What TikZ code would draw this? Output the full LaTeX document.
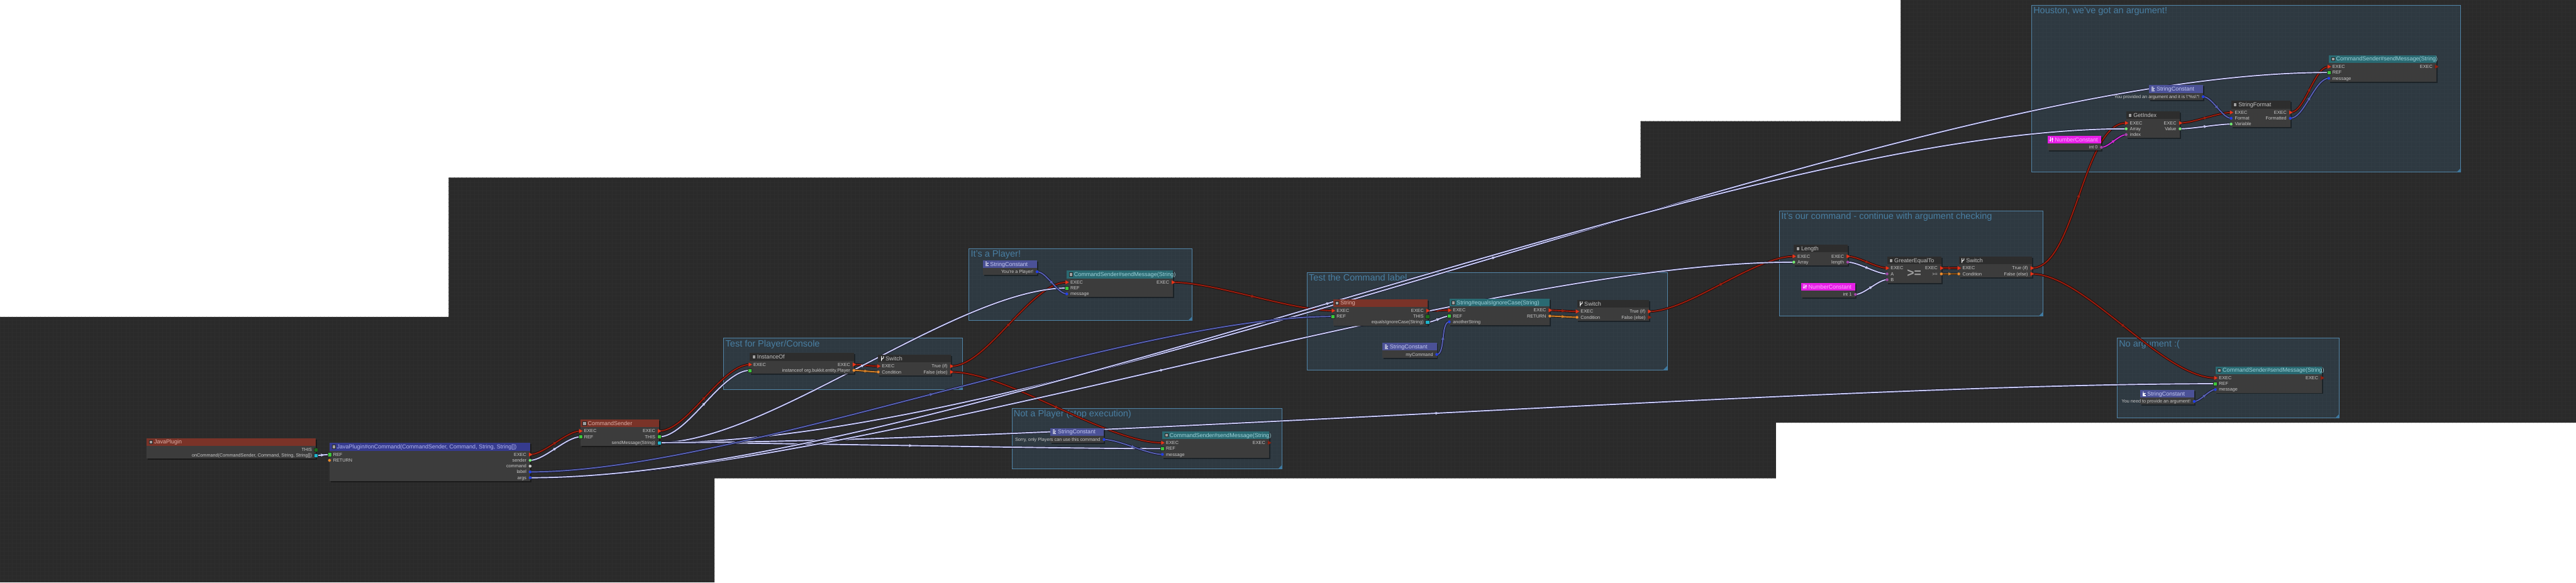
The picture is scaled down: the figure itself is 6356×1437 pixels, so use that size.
\documentclass[tikz,border=0pt]{standalone}
\usepackage{fontspec}
\setmainfont{Liberation Sans}
\usetikzlibrary{calc,shapes.geometric,decorations.markings}

\definecolor{canvasbg}{HTML}{2A2A2A}
\definecolor{gridline}{HTML}{2E2E2E}
\definecolor{groupblue}{HTML}{3F789E}
\definecolor{bodygray}{HTML}{3C3C3C}
\definecolor{headgray}{HTML}{2D2D2D}
\definecolor{headred}{HTML}{7A3328}
\definecolor{headblue}{HTML}{363B8E}
\definecolor{headteal}{HTML}{2A6A72}
\definecolor{headstr}{HTML}{4B5196}
\definecolor{headnum}{HTML}{E61EE6}
\definecolor{txtred}{HTML}{DDB0A8}
\definecolor{txtblue}{HTML}{B4B8F0}
\definecolor{txtteal}{HTML}{A0D2DA}
\definecolor{txtstr}{HTML}{C4C8F0}
\definecolor{txtnum}{HTML}{FFB0FF}
\definecolor{txtgray}{HTML}{C4C4C4}
\definecolor{labelgray}{HTML}{CACACA}
\definecolor{execred}{HTML}{EC3418}
\definecolor{execdim}{HTML}{962010}
\definecolor{refgreen}{HTML}{3CC63C}
\definecolor{thisgreen}{HTML}{1B6E1B}
\definecolor{methcyan}{HTML}{1CB2CA}
\definecolor{dotblue}{HTML}{1E3CF0}
\definecolor{dotgreen}{HTML}{72F072}
\definecolor{dotorange}{HTML}{F08C2A}
\definecolor{dotpurple}{HTML}{A444AC}
\definecolor{dotgray}{HTML}{C8C8C8}
\definecolor{execcore}{HTML}{9A1F10}
\definecolor{execedge}{HTML}{230806}
\definecolor{lavcore}{HTML}{C8CAF2}
\definecolor{lavedge}{HTML}{16162E}
\definecolor{strcore}{HTML}{5862B2}
\definecolor{stredge}{HTML}{13132A}
\definecolor{boolcore}{HTML}{D4822C}
\definecolor{booledge}{HTML}{2A1806}
\definecolor{intcore}{HTML}{D22CD2}

\pgfdeclarelayer{canvas}
\pgfdeclarelayer{groups}
\pgfdeclarelayer{links}
\pgfsetlayers{canvas,groups,links,main}

% ノード本体（名前, x, y, 幅, 行数, 見出し色, 見出し文字色, アイコン, 見出し）
\newcommand{\bpnode}[9]{%
  \fill[nodeshadow] (#2+3,#3+3) rectangle ++(#4,{36.5+14.3*(#5-1)});
  \node[nodebody, minimum width=#4, minimum height={36.5+14.3*(#5-1)}] (#1) at (#2,#3) {};
  \fill[#6] (#1.north west) rectangle ++(#4,19);
  #8{#1}%
  \node[headtext, text=#7] at ([shift={(18,14.5)}]#1.north west) {#9};}
% 左右のピン
\newcommand{\pinL}[5]{%
  \node[#1] (#2) at ([shift={(0,{28.5+14.3*#4})}]#3.north west) {};
  \node[pinlabel, anchor=base west] at ([shift={(9,4)}]#2.center) {#5};}
\newcommand{\pinR}[5]{%
  \node[#1] (#2) at ([shift={(0,{28.5+14.3*#4})}]#3.north east) {};
  \node[pinlabel, anchor=base east] at ([shift={(-9,4)}]#2.center) {#5};}
% グループ枠
\newcommand{\bpgroup}[6]{%
  \begin{pgfonlayer}{groups}
  \node[groupbox, minimum width={#4-#2}, minimum height={#5-#3}] (#1) at (#2,#3) {};
  \node[grouptitle] at ([shift={(5,21.5)}]#1.north west) {#6};
  \fill[groupblue] (#1.south east) -- ++(-11,0) -- ++(11,-11) -- cycle;
  \end{pgfonlayer}}
% 接続線（端点間の距離の1/4で水平に出る）
\newcommand{\bplink}[3][objlink]{%
  \draw[#1] let \p1=(#2), \p2=(#3), \n1={veclen((\x2-\x1)/100,(\y2-\y1)/100)*25}
    in (\p1) .. controls +(\n1,0) and +(-\n1,0) .. (\p2);}
% アイコン
\newcommand{\iconbox}[1]{\filldraw[fill=gray!75, draw=black!85, line width=0.8] ([shift={(6,5)}]#1.north west) rectangle ++(8,9);}
\newcommand{\iconstr}[1]{\foreach \dy/\len in {5/4,8/8,11/6,14/8}{\draw[white, line width=1.7] ([shift={(6,\dy)}]#1.north west) -- ++(\len,0);}}
\newcommand{\iconnum}[1]{\draw[white, line width=1.4, ->] ([shift={(7,4)}]#1.north west) -- ++(0,11);
  \draw[white, line width=1.4, ->] ([shift={(12,15)}]#1.north west) -- ++(0,-11);}
\newcommand{\iconsw}[1]{\draw[white, line width=1.5] ([shift={(8,16)}]#1.north west) -- ++(0,-12)
  ([shift={(8,12)}]#1.north west) -- ++(5,-4) -- ++(0,-4);}

\begin{document}
\begin{tikzpicture}[x=1pt, y=-1pt, >=stealth,
  nodebody/.style={anchor=north west, fill=bodygray, inner sep=0, outer sep=0},
  nodeshadow/.style={fill=black, fill opacity=0.4},
  headtext/.style={anchor=base west, inner sep=0, font=\fontsize{14}{16}\selectfont},
  pinlabel/.style={inner sep=0, text=labelgray, font=\fontsize{11.3}{13}\selectfont},
  execpin/.style={regular polygon, regular polygon sides=3, rotate=-90, minimum size=13, inner sep=0, fill=execred, draw=black!80, line width=0.5},
  execoff/.style={execpin, fill=execdim},
  sqpin/.style={rectangle, minimum size=9.5, inner sep=0, draw=black!85, line width=0.6},
  dotpin/.style={circle, minimum size=7.5, inner sep=0, draw=black!70, line width=0.4},
  groupbox/.style={anchor=north west, inner sep=0, fill=groupblue, fill opacity=0.2, draw=groupblue!90!white, line width=1.2},
  grouptitle/.style={anchor=base west, inner sep=0, text=groupblue!95!white, font=\fontsize{22.5}{26}\selectfont},
  wire/.style n args={2}{draw=#1, line width=3, line cap=round, preaction={draw=#2, line width=5.6},
    postaction={decorate, decoration={markings, mark=at position 0.5 with {\fill[#1] (-4,-3.6) -- (4.5,0) -- (-4,3.6) -- cycle;}}}},
  execlink/.style={wire={execcore}{execedge}},
  objlink/.style={wire={lavcore}{lavedge}},
  strlink/.style={wire={strcore}{stredge}},
  boollink/.style={wire={boolcore}{booledge}},
  intlink/.style={wire={intcore}{stredge}}]

\useasboundingbox (0,0) rectangle (6356,1437);

% 背景とグリッド
\begin{pgfonlayer}{canvas}
  \fill[white] (0,0) rectangle (6356,1437);
  \begin{scope}
    \clip (0,782) -- (1107,782) -- (1107,438) -- (4048,438) -- (4048,299) -- (4690,299) -- (4690,0)
      -- (6356,0) -- (6356,1043) -- (4382,1043) -- (4382,1180) -- (1763,1180) -- (1763,1437) -- (0,1437) -- cycle;
    \fill[canvasbg] (0,0) rectangle (6356,1437);
    \foreach \gx in {0,10,...,6350} \draw[gridline, line width=0.6] (\gx,0) -- (\gx,1437);
    \foreach \gy in {0,10,...,1430} \draw[gridline, line width=0.6] (0,\gy) -- (6356,\gy);
  \end{scope}
\end{pgfonlayer}

% グループ
\bpgroup{gtest}{1785}{834}{2374}{960}{Test for Player/Console}
\bpgroup{gplayer}{2390}{613}{2941}{790}{It's a Player!}
\bpgroup{gnot}{2496}{1007}{3163}{1156}{Not a Player (stop execution)}
\bpgroup{glabel}{3224}{672}{4113}{912}{Test the Command label}
\bpgroup{gours}{4390}{520}{5040}{779}{It's our command - continue with argument checking}
\bpgroup{ghouston}{5012}{12}{6071}{424}{Houston, we've got an argument!}
\bpgroup{gnoarg}{5223}{834}{5771}{1031}{No argument :(}

% 入口
\bpnode{jp}{362}{1081}{417}{2}{headred}{txtred}{\iconbox}{JavaPlugin}
\pinR{sqpin, fill=thisgreen}{jp-this}{jp}{0}{THIS}
\pinR{sqpin, fill=methcyan}{jp-cmd}{jp}{1}{onCommand(CommandSender, Command, String, String[])}

\bpnode{oc}{813}{1093}{495}{5}{headblue}{txtblue}{\iconbox}{JavaPlugin\#onCommand(CommandSender, Command, String, String[])}
\pinL{sqpin, fill=refgreen}{oc-ref}{oc}{0}{REF}
\pinL{dotpin, fill=dotorange}{oc-ret}{oc}{1}{RETURN}
\pinR{execpin}{oc-exec}{oc}{0}{EXEC}
\pinR{dotpin, fill=dotgreen}{oc-sender}{oc}{1}{sender}
\pinR{dotpin, fill=dotgray}{oc-command}{oc}{2}{command}
\pinR{dotpin, fill=dotblue}{oc-label}{oc}{3}{label}
\pinR{dotpin, fill=dotblue}{oc-args}{oc}{4}{args}

\bpnode{cs}{1432}{1035}{194}{3}{headred}{txtred}{\iconbox}{CommandSender}
\pinL{execpin}{cs-in}{cs}{0}{EXEC}
\pinL{sqpin, fill=refgreen}{cs-ref}{cs}{1}{REF}
\pinR{execpin}{cs-out}{cs}{0}{EXEC}
\pinR{sqpin, fill=refgreen}{cs-this}{cs}{1}{THIS}
\pinR{sqpin, fill=methcyan}{cs-send}{cs}{2}{sendMessage(String)}

% プレイヤー判定
\bpnode{io}{1850}{871}{257}{2}{headgray}{txtgray}{\iconbox}{InstanceOf}
\pinL{execpin}{io-in}{io}{0}{EXEC}
\pinL{sqpin, fill=refgreen}{io-ref}{io}{1}{}
\pinR{execpin}{io-out}{io}{0}{EXEC}
\pinR{dotpin, fill=dotorange}{io-test}{io}{1}{instanceof org.bukkit.entity.Player}

\bpnode{sw1}{2167}{875}{180}{2}{headgray}{txtgray}{\iconsw}{Switch}
\pinL{execpin}{sw1-in}{sw1}{0}{EXEC}
\pinL{dotpin, fill=dotorange}{sw1-cond}{sw1}{1}{Condition}
\pinR{execpin}{sw1-true}{sw1}{0}{True (if)}
\pinR{execpin}{sw1-false}{sw1}{1}{False (else)}

\bpnode{sc1}{2425}{642}{134}{1}{headstr}{txtstr}{\iconstr}{StringConstant}
\pinR{dotpin, fill=dotblue}{sc1-out}{sc1}{0}{You're a Player!}
\bpnode{sm1}{2632}{668}{262}{3}{headteal}{txtteal}{\iconbox}{CommandSender\#sendMessage(String)}
\pinL{execpin}{sm1-in}{sm1}{0}{EXEC}
\pinL{sqpin, fill=refgreen}{sm1-ref}{sm1}{1}{REF}
\pinL{dotpin, fill=dotblue}{sm1-msg}{sm1}{2}{message}
\pinR{execpin}{sm1-out}{sm1}{0}{EXEC}

\bpnode{sc2}{2592}{1056}{132}{1}{headstr}{txtstr}{\iconstr}{StringConstant}
\pinR{dotpin, fill=dotblue}{sc2-out}{sc2}{0}{Sorry, only Players can use this command}
\bpnode{sm2}{2868}{1064}{263}{3}{headteal}{txtteal}{\iconbox}{CommandSender\#sendMessage(String)}
\pinL{execpin}{sm2-in}{sm2}{0}{EXEC}
\pinL{sqpin, fill=refgreen}{sm2-ref}{sm2}{1}{REF}
\pinL{dotpin, fill=dotblue}{sm2-msg}{sm2}{2}{message}
\pinR{execoff}{sm2-out}{sm2}{0}{EXEC}

% コマンド名の判定
\bpnode{str}{3289}{738}{233}{3}{headred}{txtred}{\iconbox}{String}
\pinL{execpin}{str-in}{str}{0}{EXEC}
\pinL{sqpin, fill=refgreen}{str-ref}{str}{1}{REF}
\pinR{execpin}{str-out}{str}{0}{EXEC}
\pinR{sqpin, fill=thisgreen}{str-this}{str}{1}{THIS}
\pinR{sqpin, fill=methcyan}{str-eqic}{str}{2}{equalsIgnoreCase(String)}

\bpnode{eq}{3576}{737}{248}{3}{headteal}{txtteal}{\iconbox}{String\#equalsIgnoreCase(String)}
\pinL{execpin}{eq-in}{eq}{0}{EXEC}
\pinL{sqpin, fill=refgreen}{eq-ref}{eq}{1}{REF}
\pinL{dotpin, fill=dotblue}{eq-other}{eq}{2}{anotherString}
\pinR{execpin}{eq-out}{eq}{0}{EXEC}
\pinR{dotpin, fill=dotorange}{eq-ret}{eq}{1}{RETURN}

\bpnode{sw2}{3891}{740}{178}{2}{headgray}{txtgray}{\iconsw}{Switch}
\pinL{execpin}{sw2-in}{sw2}{0}{EXEC}
\pinL{dotpin, fill=dotorange}{sw2-cond}{sw2}{1}{Condition}
\pinR{execpin}{sw2-true}{sw2}{0}{True (if)}
\pinR{execoff}{sw2-false}{sw2}{1}{False (else)}

\bpnode{sc3}{3411}{846}{134}{1}{headstr}{txtstr}{\iconstr}{StringConstant}
\pinR{dotpin, fill=dotblue}{sc3-out}{sc3}{0}{myCommand}

% 引数の数
\bpnode{len}{4426}{604}{133}{2}{headgray}{txtgray}{\iconbox}{Length}
\pinL{execpin}{len-in}{len}{0}{EXEC}
\pinL{dotpin, fill=dotgreen}{len-arr}{len}{1}{Array}
\pinR{execpin}{len-out}{len}{0}{EXEC}
\pinR{dotpin, fill=dotpurple}{len-len}{len}{1}{length}

\bpnode{nc1}{4444}{698}{134}{1}{headnum}{txtnum}{\iconnum}{NumberConstant}
\pinR{dotpin, fill=dotpurple}{nc1-out}{nc1}{0}{int 1}

\bpnode{geq}{4656}{633}{134}{3}{headgray}{txtgray}{\iconbox}{GreaterEqualTo}
\pinL{execpin}{geq-in}{geq}{0}{EXEC}
\pinL{dotpin, fill=dotpurple}{geq-a}{geq}{1}{A}
\pinL{dotpin, fill=dotpurple}{geq-b}{geq}{2}{B}
\pinR{execpin}{geq-out}{geq}{0}{EXEC}
\pinR{dotpin, fill=dotorange}{geq-res}{geq}{1}{>=}
\node[inner sep=0, text=gray!75!white, font=\fontsize{30}{30}\selectfont\bfseries] (geq-sym) at ([shift={(67,42)}]geq.north west) {>=};

\bpnode{sw3}{4833}{633}{180}{2}{headgray}{txtgray}{\iconsw}{Switch}
\pinL{execpin}{sw3-in}{sw3}{0}{EXEC}
\pinL{dotpin, fill=dotorange}{sw3-cond}{sw3}{1}{Condition}
\pinR{execpin}{sw3-true}{sw3}{0}{True (if)}
\pinR{execpin}{sw3-false}{sw3}{1}{False (else)}

% 引数あり
\bpnode{sm3}{5746}{136}{265}{3}{headteal}{txtteal}{\iconbox}{CommandSender\#sendMessage(String)}
\pinL{execpin}{sm3-in}{sm3}{0}{EXEC}
\pinL{sqpin, fill=refgreen}{sm3-ref}{sm3}{1}{REF}
\pinL{dotpin, fill=dotblue}{sm3-msg}{sm3}{2}{message}
\pinR{execoff}{sm3-out}{sm3}{0}{EXEC}

\bpnode{sc4}{5303}{210}{133}{1}{headstr}{txtstr}{\iconstr}{StringConstant}
\pinR{dotpin, fill=dotblue}{sc4-out}{sc4}{0}{You provided an argument and it is \textbackslash"\%s\textbackslash"!}

\bpnode{sf}{5505}{249}{146}{3}{headgray}{txtgray}{\iconbox}{StringFormat}
\pinL{execpin}{sf-in}{sf}{0}{EXEC}
\pinL{dotpin, fill=dotblue}{sf-fmt}{sf}{1}{Format}
\pinL{dotpin, fill=dotgreen}{sf-var}{sf}{2}{Variable}
\pinR{execpin}{sf-out}{sf}{0}{EXEC}
\pinR{dotpin, fill=dotblue}{sf-res}{sf}{1}{Formatted}

\bpnode{gi}{5246}{275}{133}{3}{headgray}{txtgray}{\iconbox}{GetIndex}
\pinL{execpin}{gi-in}{gi}{0}{EXEC}
\pinL{dotpin, fill=dotgreen}{gi-arr}{gi}{1}{Array}
\pinL{dotpin, fill=dotpurple}{gi-idx}{gi}{2}{index}
\pinR{execpin}{gi-out}{gi}{0}{EXEC}
\pinR{dotpin, fill=dotgreen}{gi-val}{gi}{1}{Value}

\bpnode{nc2}{5052}{335}{133}{1}{headnum}{txtnum}{\iconnum}{NumberConstant}
\pinR{dotpin, fill=dotpurple}{nc2-out}{nc2}{0}{int 0}

% 引数なし
\bpnode{sm4}{5466}{904}{263}{3}{headteal}{txtteal}{\iconbox}{CommandSender\#sendMessage(String)}
\pinL{execpin}{sm4-in}{sm4}{0}{EXEC}
\pinL{sqpin, fill=refgreen}{sm4-ref}{sm4}{1}{REF}
\pinL{dotpin, fill=dotblue}{sm4-msg}{sm4}{2}{message}
\pinR{execoff}{sm4-out}{sm4}{0}{EXEC}

\bpnode{sc5}{5280}{962}{134}{1}{headstr}{txtstr}{\iconstr}{StringConstant}
\pinR{dotpin, fill=dotblue}{sc5-out}{sc5}{0}{You need to provide an argument!}

% 接続線
\begin{pgfonlayer}{links}
  % 実行の流れ
  \bplink[execlink]{oc-exec}{cs-in}
  \bplink[execlink]{cs-out}{io-in}
  \bplink[execlink]{io-out}{sw1-in}
  \bplink[execlink]{sw1-true}{sm1-in}
  \bplink[execlink]{sw1-false}{sm2-in}
  \bplink[execlink]{sm1-out}{str-in}
  \bplink[execlink]{str-out}{eq-in}
  \bplink[execlink]{eq-out}{sw2-in}
  \bplink[execlink]{sw2-true}{len-in}
  \bplink[execlink]{len-out}{geq-in}
  \bplink[execlink]{geq-out}{sw3-in}
  \bplink[execlink]{sw3-true}{gi-in}
  \bplink[execlink]{sw3-false}{sm4-in}
  \bplink[execlink]{gi-out}{sf-in}
  \bplink[execlink]{sf-out}{sm3-in}
  % 参照と値
  \bplink{jp-cmd}{oc-ref}
  \bplink{oc-sender}{cs-ref}
  \bplink{cs-this}{io-ref}
  \bplink{cs-send}{sm1-ref}
  \bplink{cs-send}{sm2-ref}
  \bplink{cs-send}{sm3-ref}
  \bplink{cs-send}{sm4-ref}
  \bplink{oc-args}{len-arr}
  \bplink{oc-args}{gi-arr}
  \bplink{str-eqic}{eq-ref}
  \bplink{len-len}{geq-a}
  \bplink{nc1-out}{geq-b}
  \bplink{gi-val}{sf-var}
  % 文字列
  \bplink[strlink]{oc-label}{str-ref}
  \bplink[strlink]{sc1-out}{sm1-msg}
  \bplink[strlink]{sc2-out}{sm2-msg}
  \bplink[strlink]{sc3-out}{eq-other}
  \bplink[strlink]{sc4-out}{sf-fmt}
  \bplink[strlink]{sf-res}{sm3-msg}
  \bplink[strlink]{sc5-out}{sm4-msg}
  % 条件
  \bplink[boollink]{io-test}{sw1-cond}
  \bplink[boollink]{eq-ret}{sw2-cond}
  \bplink[boollink]{geq-res}{sw3-cond}
  \bplink[intlink]{nc2-out}{gi-idx}
\end{pgfonlayer}
\end{tikzpicture}
\end{document}
